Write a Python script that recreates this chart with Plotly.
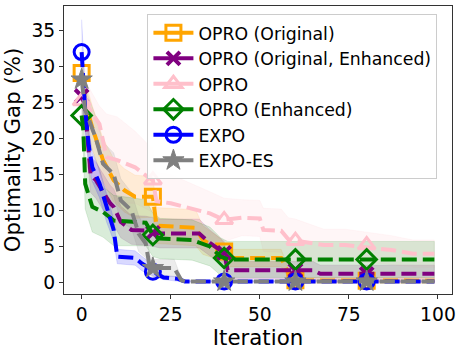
import plotly.graph_objects as go
import numpy as np

# ---- data ----
names = ["OPRO (Original)", "OPRO (Original, Enhanced)", "OPRO", "OPRO (Enhanced)", "EXPO", "EXPO-ES"]
colors = ["#FFA500", "#800080", "#FFC0CB", "#008000", "#0000FF", "#808080"]
symbols = ["square-open", "x", "triangle-up-open", "diamond-open", "circle-open", "star"]

marker_iters = [0, 20, 40, 60, 80]

opro_orig_x = [0, 1, 3, 6, 9, 12, 15, 20, 21, 32, 34, 39, 41, 56, 59, 99]
opro_orig_y = [29.1, 25, 21.5, 17, 14.2, 12.8, 11.9, 11.9, 7.9, 7.6, 5.9, 4.6, 3.4, 3.4, 0.3, 0.25]
opro_orig_s = [3, 3, 3, 3, 3, 3, 3, 2.8, 2.5, 2.5, 2, 1.5, 1.2, 1.2, 0.4, 0.4]
opro_orig_m = [29.1, 11.9, 4.3, 0.3, 0.25]

opro_oe_x = [0, 1, 2.5, 4, 8, 9, 11, 14, 18, 22, 33, 36, 40, 41, 65, 67, 99]
opro_oe_y = [25.9, 24, 15, 14.2, 11, 10.5, 8.4, 7.3, 7.2, 6.8, 6.8, 5.5, 4.1, 1.7, 1.7, 1.2, 1.2]
opro_oe_s = [3, 3, 2.5, 2.5, 2.5, 2.5, 2.2, 2, 2, 2, 2, 1.8, 1.6, 1.2, 1.2, 1.2, 1.2]
opro_oe_m = [25.9, 6.9, 4.1, 1.7, 1.2]

opro_x = [0, 1, 5, 7, 10, 15, 19, 20, 21, 25, 36, 40, 45, 50, 51, 56, 58, 60, 68, 74, 87, 93, 99]
opro_y = [25.2, 25, 22, 17.4, 17, 16, 14.5, 14.2, 11.3, 11, 9.6, 8.7, 9.0, 8.9, 7.3, 7.2, 6.0, 5.8, 5.2, 5.2, 4.5, 4.0, 4.0]
opro_s = [3, 3, 2.5, 6, 6, 5, 4.5, 4.5, 4, 4, 3, 3, 2.5, 2.5, 3, 3, 3, 3, 2.2, 2.2, 2, 1.9, 1.9]
opro_m = [25.2, 14.2, 8.7, 5.8, 5.2]

opro_enh_x = [0, 0.5, 1, 3, 6, 9, 18, 20, 22, 31, 36, 39, 41, 99]
opro_enh_y = [23.2, 21, 13.7, 10.5, 9.8, 8.6, 8.3, 6.6, 6.1, 5.9, 5.0, 3.6, 3.2, 3.2]
opro_enh_s = [3, 3, 3.5, 3.5, 3.5, 3.5, 3.2, 3, 2.8, 2.8, 2.7, 2.6, 2.5, 2.5]
opro_enh_m = [23.2, 6.6, 3.4, 3.2, 3.2]

expo_x = [0, 1, 2, 3, 5, 7, 9, 10, 15, 17, 19, 20, 23, 27, 29, 99]
expo_y = [32, 24, 19, 16, 13.8, 10.4, 7.3, 3.6, 3.4, 2.6, 2.0, 1.5, 0.7, 0.5, 0.15, 0.15]
expo_s = [4.5, 3, 2.5, 2, 2, 2, 1.5, 1, 1, 1, 0.8, 0.6, 0.3, 0.3, 0.1, 0.1]
expo_m = [32, 1.5, 0.15, 0.15, 0.15]

expo_es_x = [0, 1, 4, 6, 9, 11, 14, 16, 18, 19, 20, 26, 28, 29, 99]
expo_es_y = [28.2, 24, 20, 16.5, 15, 11.4, 10, 6.8, 5.4, 2.5, 2.0, 2.0, 0.3, 0.15, 0.15]
expo_es_s = [3, 3, 3, 3, 3, 3, 2.5, 2.5, 2, 1.5, 1.2, 1.2, 0.3, 0.1, 0.1]
expo_es_m = [28.2, 2.0, 0.15, 0.15, 0.15]

x_ticks = [0, 25, 50, 75, 100]
y_ticks = [0, 5, 10, 15, 20, 25, 30, 35]

series = [
    (opro_orig_x, opro_orig_y, opro_orig_s, opro_orig_m),
    (opro_oe_x, opro_oe_y, opro_oe_s, opro_oe_m),
    (opro_x, opro_y, opro_s, opro_m),
    (opro_enh_x, opro_enh_y, opro_enh_s, opro_enh_m),
    (expo_x, expo_y, expo_s, expo_m),
    (expo_es_x, expo_es_y, expo_es_s, expo_es_m),
]


def rgba(hexc, a):
    h = hexc.lstrip("#")
    return "rgba(%d,%d,%d,%.2f)" % (int(h[0:2], 16), int(h[2:4], 16), int(h[4:6], 16), a)


fig = go.Figure()
DASH = "15px,6px"
LW = 4

# bands first
for (xs, ys, ss, ms), c in zip(series, colors):
    y = np.array(ys, dtype=float)
    s = np.array(ss, dtype=float)
    up = y + s
    lo = y - s
    fig.add_trace(go.Scatter(x=list(xs) + list(xs)[::-1], y=list(up) + list(lo)[::-1],
                             fill="toself", fillcolor=rgba(c, 0.15), mode="lines",
                             line=dict(width=0.8, color=rgba(c, 0.15)),
                             hoverinfo="skip", showlegend=False))

for (xs, ys, ss, ms), c, sym, nm in zip(series, colors, symbols, names):
    fig.add_trace(go.Scatter(x=xs, y=ys, mode="lines",
                             line=dict(color=c, width=LW, dash=DASH),
                             showlegend=False))
    mk = dict(symbol=sym, size=15, color=c, line=dict(color=c, width=3))
    if sym == "x":
        mk = dict(symbol="x-thin", size=13, color=c, line=dict(color=c, width=4))
    if sym == "star":
        mk = dict(symbol="star", size=16, color=c, line=dict(color=c, width=1))
    fig.add_trace(go.Scatter(x=marker_iters, y=ms, mode="markers", marker=mk,
                             showlegend=False))
    fig.add_trace(go.Scatter(x=[None], y=[None], mode="lines+markers", name=nm,
                             line=dict(color=c, width=LW, dash="solid"), marker=mk))

axis_common = dict(showline=True, linecolor="#333333", linewidth=1, mirror=True,
                   ticks="outside", ticklen=4, tickcolor="#333333", showgrid=False,
                   zeroline=False, tickfont=dict(size=18.7, color="black"), automargin=False)

fig.update_layout(
    width=466, height=353,
    margin=dict(l=64, r=14, t=6, b=59),
    paper_bgcolor="white", plot_bgcolor="white",
    font=dict(family="DejaVu Sans", color="black"),
    xaxis=dict(range=[-4.95, 103.95], tickvals=x_ticks,
               title=dict(text="Iteration", font=dict(size=21.3), standoff=0), **axis_common),
    yaxis=dict(range=[-1.6, 38.4], tickvals=y_ticks,
               title=dict(text="Optimality Gap (%)", font=dict(size=21.3), standoff=8), **axis_common),
    legend=dict(x=0.215, y=0.972, xanchor="left", yanchor="top",
                bgcolor="rgba(255,255,255,0.85)", bordercolor="#cccccc", borderwidth=1,
                font=dict(size=17.3, color="black"), itemwidth=40),
)

fig.write_html("out.html", config={"displayModeBar": False},
               post_script="document.body.style.margin='0';document.body.style.padding='0';")
